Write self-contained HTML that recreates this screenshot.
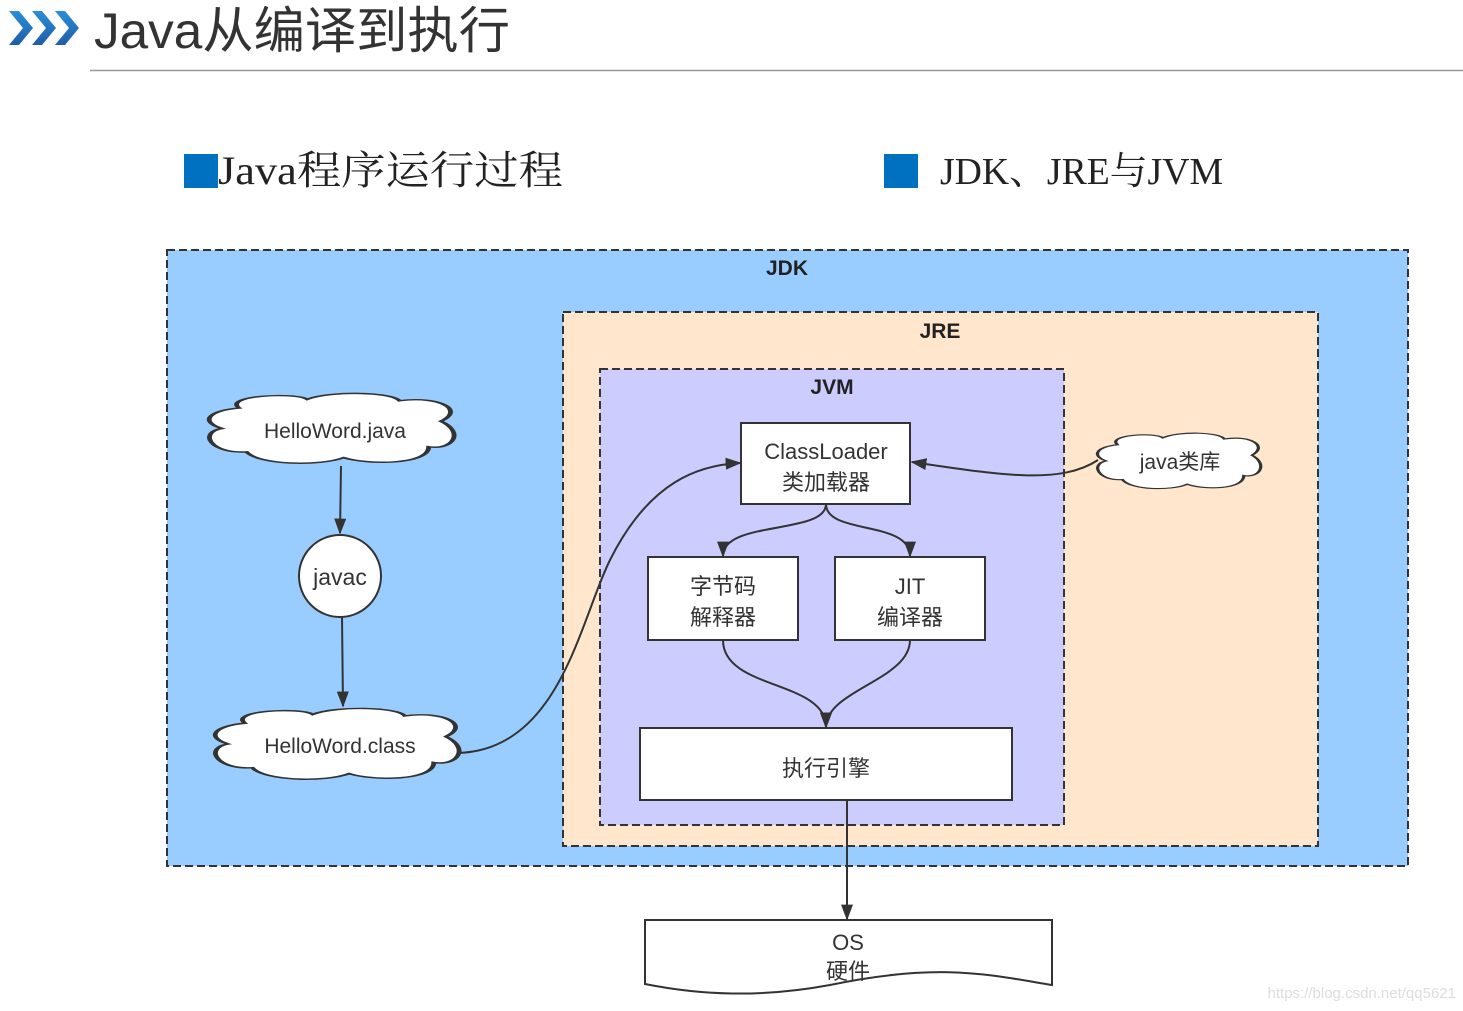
<!DOCTYPE html>
<html><head><meta charset="utf-8"><style>
html,body{margin:0;padding:0;background:#fff;width:1463px;height:1011px;overflow:hidden}
svg{display:block}
text{font-family:"Liberation Sans","Noto Sans CJK SC",sans-serif}
</style></head><body>
<svg width="1463" height="1011" viewBox="0 0 1463 1011" xmlns="http://www.w3.org/2000/svg">
<defs>
<marker id="ar" viewBox="0 0 10 10" refX="9" refY="5" markerWidth="16" markerHeight="12" orient="auto" markerUnits="userSpaceOnUse" preserveAspectRatio="none">
<path d="M0,0 L10,5 L0,10 z" fill="#333"/></marker>
<linearGradient id="chev" x1="0" y1="0" x2="0" y2="1"><stop offset="0" stop-color="#2a8fd8"/><stop offset="1" stop-color="#1f5ca8"/></linearGradient>
<path id="cloud" d="M 12 22 C 5 5, 35 0, 40 10 C 50 -2, 75 0, 78 12 C 95 5, 105 25, 95 40 C 105 55, 100 80, 90 75 C 90 100, 65 100, 55 90 C 45 102, 20 100, 15 82 C 0 85, -5 55, 5 50 C -5 40, 0 25, 12 22 Z"/>
</defs>
<g fill="url(#chev)">
<polygon points="9,11 19,11 33,28 19,45 9,45 23,28"/>
<polygon points="32,11 42,11 56,28 42,45 32,45 46,28"/>
<polygon points="55,11 65,11 79,28 65,45 55,45 69,28"/>
</g>
<text x="94" y="48" font-size="50" fill="#333" textLength="416" lengthAdjust="spacingAndGlyphs">Java从编译到执行</text>
<line x1="90" y1="70.5" x2="1463" y2="70.5" stroke="#999" stroke-width="1.5"/>
<rect x="184" y="154" width="34" height="34" fill="#0070c0"/>
<text x="218" y="184" font-size="40" fill="#222" textLength="345" lengthAdjust="spacingAndGlyphs" style="font-family:'Liberation Serif','Noto Serif CJK SC',serif">Java程序运行过程</text>
<rect x="884" y="154" width="34" height="34" fill="#0070c0"/>
<text x="940" y="184" font-size="38" fill="#222" textLength="283" lengthAdjust="spacingAndGlyphs" style="font-family:'Liberation Serif','Noto Serif CJK SC',serif">JDK、JRE与JVM</text>
<rect x="167" y="250" width="1241" height="616" fill="#99ccff" stroke="#333" stroke-width="2" stroke-dasharray="8,4"/>
<text x="787" y="275" font-size="21" font-weight="bold" fill="#222" text-anchor="middle">JDK</text>
<rect x="563" y="312" width="755" height="534" fill="#ffe6cc" stroke="#333" stroke-width="2" stroke-dasharray="8,4"/>
<text x="940" y="338" font-size="21" font-weight="bold" fill="#222" text-anchor="middle">JRE</text>
<rect x="600" y="369" width="464" height="456" fill="#ccccff" stroke="#333" stroke-width="2" stroke-dasharray="8,4"/>
<text x="832" y="394" font-size="21" font-weight="bold" fill="#222" text-anchor="middle">JVM</text>
<g fill="#fff" stroke="#333" stroke-width="2">
<use href="#cloud" transform="translate(210,392) scale(2.43,0.73)" style="vector-effect:non-scaling-stroke"/>
<use href="#cloud" transform="translate(216,707) scale(2.42,0.74)" style="vector-effect:non-scaling-stroke"/>
<use href="#cloud" transform="translate(1098,432) scale(1.62,0.58)" style="vector-effect:non-scaling-stroke"/>
</g>
<text x="335" y="438" font-size="21" fill="#333" text-anchor="middle">HelloWord.java</text>
<text x="340" y="753" font-size="21" fill="#333" text-anchor="middle">HelloWord.class</text>
<text x="1180" y="469" font-size="21" fill="#333" text-anchor="middle">java类库</text>
<circle cx="340" cy="576" r="41" fill="#fff" stroke="#333" stroke-width="2"/>
<text x="340" y="585" font-size="23" fill="#333" text-anchor="middle">javac</text>
<g fill="#fff" stroke="#333" stroke-width="2">
<rect x="741" y="423" width="169" height="81"/>
<rect x="648" y="557" width="150" height="83"/>
<rect x="835" y="557" width="150" height="83"/>
<rect x="640" y="728" width="372" height="72"/>
<path d="M645,920 L1052,920 L1052,985 C990,975 940,962 830,985 C760,998 700,995 645,984 Z"/>
</g>
<g font-size="22" fill="#333" text-anchor="middle">
<text x="826" y="459">ClassLoader</text>
<text x="826" y="490">类加载器</text>
<text x="723" y="594">字节码</text>
<text x="723" y="625">解释器</text>
<text x="910" y="594">JIT</text>
<text x="910" y="625">编译器</text>
<text x="826" y="776">执行引擎</text>
<text x="848" y="950">OS</text>
<text x="848" y="979">硬件</text>
</g>
<g fill="none" stroke="#333" stroke-width="2">
<path d="M341,466 L340,533" marker-end="url(#ar)"/>
<path d="M342,617 L343,706" marker-end="url(#ar)"/>
<path d="M458,753 C560,750 580,620 610,560 C650,480 700,465 740,463" marker-end="url(#ar)"/>
<path d="M1098,460 C1060,485 1000,475 912,462" marker-end="url(#ar)"/>
<path d="M826,504 C826,535 723,520 723,556" marker-end="url(#ar)"/>
<path d="M826,504 C826,535 910,520 910,556" marker-end="url(#ar)"/>
<path d="M723,640 C723,690 826,680 826,727" marker-end="url(#ar)"/>
<path d="M910,640 C910,680 826,690 826,727" marker-end="url(#ar)"/>
<path d="M847,800 L847,919" marker-end="url(#ar)"/>
</g>
<text x="1456" y="998" font-size="15" fill="#ddd" text-anchor="end">https://blog.csdn.net/qq5621</text>
</svg>
</body></html>
